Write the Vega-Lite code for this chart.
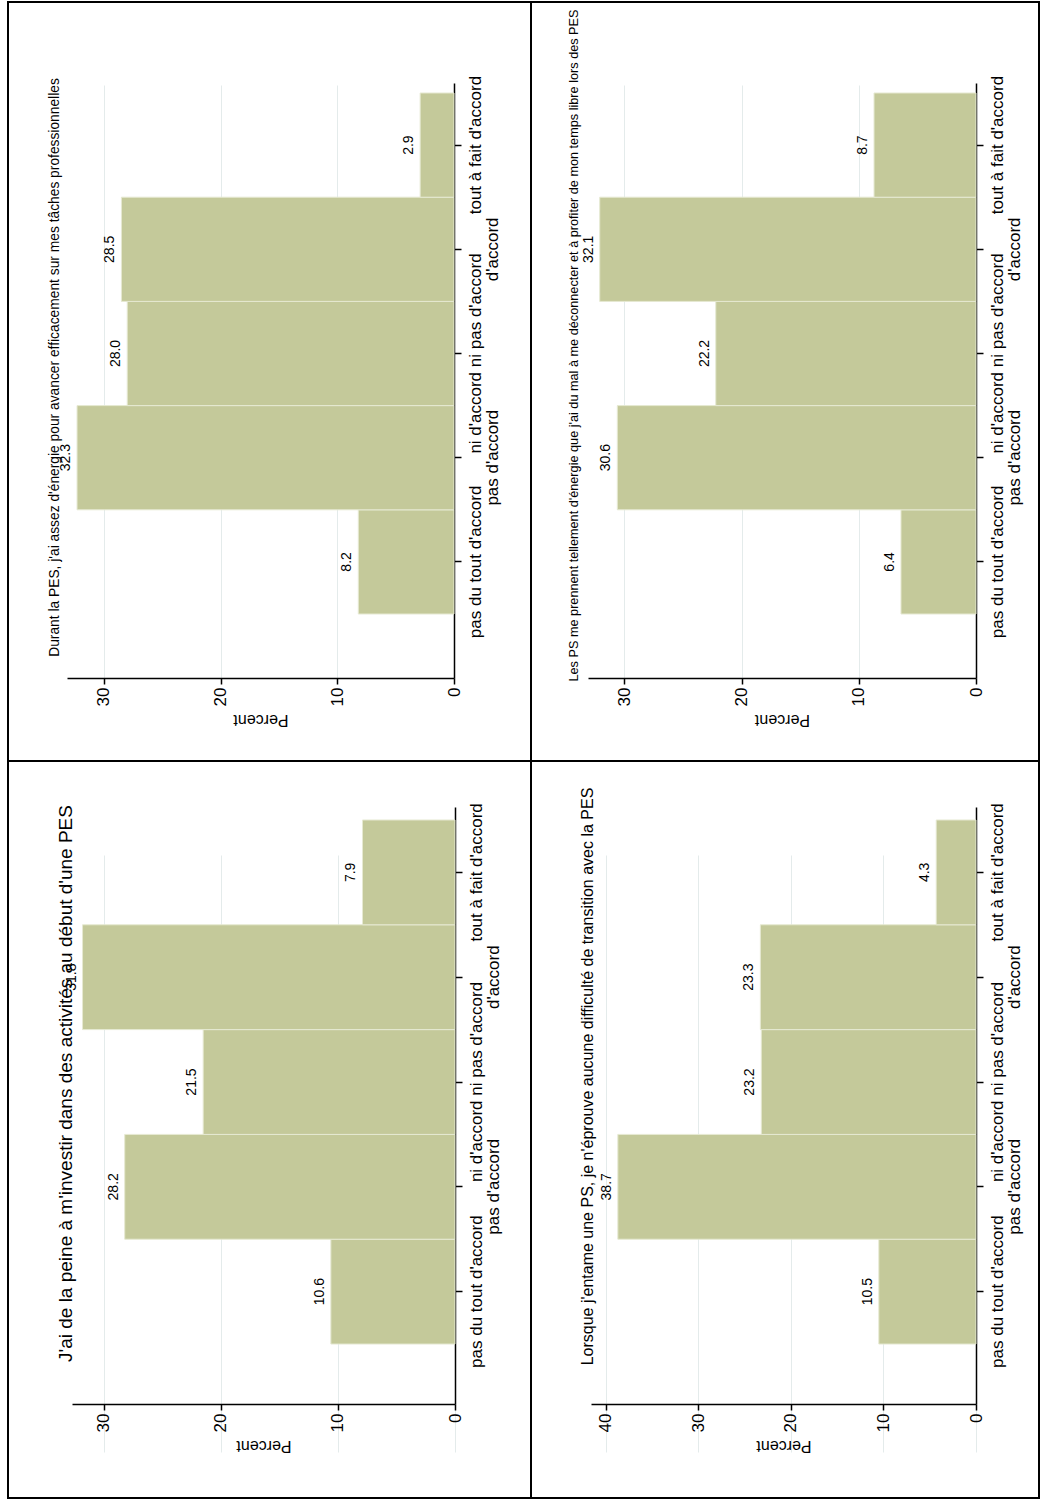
{
  "$schema": "https://vega.github.io/schema/vega-lite/v6.json",
  "background": "white",
  "padding": {"left": 7, "top": 1, "right": 0, "bottom": 0},
  "spacing": 0,
  "columns": 2,
  "bounds": "flush",
  "datasets": {
    "durant": [
      {"reponse": "pas du tout d'accord", "pct": 8.2},
      {"reponse": "pas d'accord", "pct": 32.3},
      {"reponse": "ni d'accord ni pas d'accord", "pct": 28.0},
      {"reponse": "d'accord", "pct": 28.5},
      {"reponse": "tout à fait d'accord", "pct": 2.9}
    ],
    "lesps": [
      {"reponse": "pas du tout d'accord", "pct": 6.4},
      {"reponse": "pas d'accord", "pct": 30.6},
      {"reponse": "ni d'accord ni pas d'accord", "pct": 22.2},
      {"reponse": "d'accord", "pct": 32.1},
      {"reponse": "tout à fait d'accord", "pct": 8.7}
    ],
    "jai": [
      {"reponse": "pas du tout d'accord", "pct": 10.6},
      {"reponse": "pas d'accord", "pct": 28.2},
      {"reponse": "ni d'accord ni pas d'accord", "pct": 21.5},
      {"reponse": "d'accord", "pct": 31.8},
      {"reponse": "tout à fait d'accord", "pct": 7.9}
    ],
    "lorsque": [
      {"reponse": "pas du tout d'accord", "pct": 10.5},
      {"reponse": "pas d'accord", "pct": 38.7},
      {"reponse": "ni d'accord ni pas d'accord", "pct": 23.2},
      {"reponse": "d'accord", "pct": 23.3},
      {"reponse": "tout à fait d'accord", "pct": 4.3}
    ]
  },
  "concat": [
    {
      "width": 523, "height": 759,
      "data": {"name": "durant"},
      "title": {"text": "Durant la PES, j'ai assez d'énergie pour avancer efficacement sur mes tâches professionnelles", "orient": "left", "anchor": "middle", "frame": "group", "offset": -54, "dx": 14, "fontSize": 13.8},
      "encoding": {
        "y": {"field": "reponse", "type": "ordinal", "sort": ["tout à fait d'accord", "d'accord", "ni d'accord ni pas d'accord", "pas d'accord", "pas du tout d'accord"],
          "scale": {"range": [81, 676], "paddingInner": 0, "paddingOuter": 0.355, "align": 0.135, "round": false},
          "axis": {"orient": "right", "offset": -77, "title": null, "labelExpr": "datum.value == \"pas d'accord\" || datum.value == \"d'accord\" ? ['', datum.value] : datum.value"}},
        "x": {"field": "pct", "type": "quantitative",
          "scale": {"domain": [0, 33.16], "range": [446, 59], "nice": false, "zero": true},
          "axis": {"orient": "bottom", "offset": -83, "values": [0, 10, 20, 30], "title": "Percent"}}
      },
      "layer": [
        {"mark": {"type": "bar"}},
        {"mark": {"type": "text"}, "encoding": {"text": {"field": "pct", "type": "quantitative", "format": ".1f"}}}
      ]
    },
    {
      "width": 508, "height": 759,
      "data": {"name": "lesps"},
      "title": {"text": "Les PS me prennent tellement d'énergie que j'ai du mal à me déconnecter et à profiter de mon temps libre lors des PES", "orient": "left", "anchor": "middle", "frame": "group", "offset": -50, "dx": 36, "fontSize": 12.7},
      "encoding": {
        "y": {"field": "reponse", "type": "ordinal", "sort": ["tout à fait d'accord", "d'accord", "ni d'accord ni pas d'accord", "pas d'accord", "pas du tout d'accord"],
          "scale": {"range": [81, 676], "paddingInner": 0, "paddingOuter": 0.355, "align": 0.135, "round": false},
          "axis": {"orient": "right", "offset": -63, "title": null, "labelExpr": "datum.value == \"pas d'accord\" || datum.value == \"d'accord\" ? ['', datum.value] : datum.value"}},
        "x": {"field": "pct", "type": "quantitative",
          "scale": {"domain": [0, 33.1], "range": [445, 57], "nice": false, "zero": true},
          "axis": {"orient": "bottom", "offset": -83, "values": [0, 10, 20, 30], "title": "Percent"}}
      },
      "layer": [
        {"mark": {"type": "bar"}},
        {"mark": {"type": "text"}, "encoding": {"text": {"field": "pct", "type": "quantitative", "format": ".1f"}}}
      ]
    },
    {
      "width": 523, "height": 737,
      "data": {"name": "jai"},
      "title": {"text": "J'ai de la peine à m'investir dans des activités au début d'une PES", "orient": "left", "anchor": "middle", "frame": "group", "offset": -68, "dx": 46, "fontSize": 19},
      "encoding": {
        "y": {"field": "reponse", "type": "ordinal", "sort": ["tout à fait d'accord", "d'accord", "ni d'accord ni pas d'accord", "pas d'accord", "pas du tout d'accord"],
          "scale": {"range": [46, 643], "paddingInner": 0, "paddingOuter": 0.348, "align": 0.178, "round": false},
          "axis": {"orient": "right", "offset": -76, "title": null, "labelExpr": "datum.value == \"pas d'accord\" || datum.value == \"d'accord\" ? ['', datum.value] : datum.value"}},
        "x": {"field": "pct", "type": "quantitative",
          "scale": {"domain": [0, 32.7], "range": [447, 64], "nice": false, "zero": true},
          "axis": {"orient": "bottom", "offset": -94, "values": [0, 10, 20, 30], "title": "Percent"}}
      },
      "layer": [
        {"mark": {"type": "bar"}},
        {"mark": {"type": "text"}, "encoding": {"text": {"field": "pct", "type": "quantitative", "format": ".1f"}}}
      ]
    },
    {
      "width": 508, "height": 737,
      "data": {"name": "lorsque"},
      "title": {"text": "Lorsque j'entame une PS, je n'éprouve aucune difficulté de transition avec la PES", "orient": "left", "anchor": "middle", "frame": "group", "offset": -65, "dx": 53, "fontSize": 16},
      "encoding": {
        "y": {"field": "reponse", "type": "ordinal", "sort": ["tout à fait d'accord", "d'accord", "ni d'accord ni pas d'accord", "pas d'accord", "pas du tout d'accord"],
          "scale": {"range": [46, 643], "paddingInner": 0, "paddingOuter": 0.348, "align": 0.178, "round": false},
          "axis": {"orient": "right", "offset": -63, "title": null, "labelExpr": "datum.value == \"pas d'accord\" || datum.value == \"d'accord\" ? ['', datum.value] : datum.value"}},
        "x": {"field": "pct", "type": "quantitative",
          "scale": {"domain": [0, 41.6], "range": [445, 60], "nice": false, "zero": true},
          "axis": {"orient": "bottom", "offset": -94, "values": [0, 10, 20, 30, 40], "title": "Percent"}}
      },
      "layer": [
        {"mark": {"type": "bar"}},
        {"mark": {"type": "text"}, "encoding": {"text": {"field": "pct", "type": "quantitative", "format": ".1f"}}}
      ]
    }
  ],
  "config": {
    "font": "Liberation Sans",
    "view": {"stroke": "black", "strokeWidth": 2, "fill": "white"},
    "bar": {"color": "#c4c99a", "stroke": "#e6e9d2", "strokeWidth": 1},
    "text": {"angle": 270, "align": "center", "baseline": "bottom", "dy": -4, "fontSize": 14, "color": "black"},
    "title": {"color": "black", "fontWeight": "normal", "font": "Liberation Sans"},
    "axis": {"domainColor": "black", "tickColor": "black", "labelColor": "black", "titleColor": "black", "domainWidth": 1.5, "tickWidth": 1.5, "labelOverlap": false, "labelBound": false, "labelFlush": false, "labelLimit": 0},
    "axisRight": {"grid": false, "labelAngle": 270, "labelAlign": "center", "labelBaseline": "top", "labelFontSize": 17, "labelLineHeight": 17, "labelPadding": 6, "tickSize": 7},
    "axisBottom": {"grid": true, "gridColor": "#e4ebeb", "gridWidth": 1, "format": "d", "labelAngle": 270, "labelAlign": "right", "labelBaseline": "middle", "labelFontSize": 17, "labelPadding": 3, "tickSize": 6, "titleAngle": 180, "titleBaseline": "bottom", "titleAlign": "center", "titleFontSize": 16, "titleFontWeight": "normal", "titlePadding": 6}
  }
}
